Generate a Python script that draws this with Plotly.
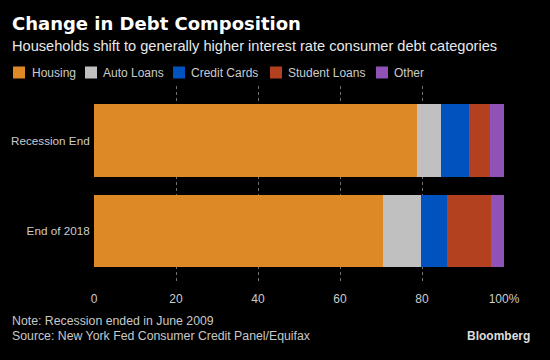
import plotly.graph_objects as go

categories = ["Recession End", "End of 2018"]
series_names = ["Housing", "Auto Loans", "Credit Cards", "Student Loans", "Other"]
housing = [78.7, 70.4]
auto_loans = [6.0, 9.3]
credit_cards = [6.8, 6.5]
student_loans = [5.2, 10.7]
other = [3.3, 3.1]
tick_vals = [0, 20, 40, 60, 80, 100]
tick_text = ["0", "20", "40", "60", "80", "100%"]

colors = ["#DD8A26", "#C0C0C0", "#0052BF", "#B3401F", "#9152B8"]
values = [housing, auto_loans, credit_cards, student_loans, other]

fig = go.Figure()
for name, vals, col in zip(series_names, values, colors):
    fig.add_trace(go.Bar(
        y=categories, x=vals, name=name, orientation="h",
        marker=dict(color=col, line=dict(width=0)),
        showlegend=False, hoverinfo="x+name",
    ))

FONT = "Liberation Sans, Arial, sans-serif"
L, T, B = 94, 86, 77
PW, PH = 550 - L - 46, 360 - T - B

fig.update_layout(
    width=550, height=360,
    paper_bgcolor="black", plot_bgcolor="black",
    barmode="stack", bargap=0.2,
    margin=dict(l=L, r=46, t=T, b=B, autoexpand=False),
    font=dict(family=FONT, color="#cccccc", size=12),
    xaxis=dict(
        range=[0, 100], tickvals=tick_vals, ticktext=tick_text,
        showgrid=True, gridcolor="#707070", griddash="dot", gridwidth=1,
        zeroline=True, zerolinecolor="black", zerolinewidth=2,
        showline=False, ticks="outside", ticklen=5, tickcolor="rgba(0,0,0,0)",
        tickfont=dict(size=12, color="#cccccc"), fixedrange=True,
        automargin=False,
    ),
    yaxis=dict(
        type="category", categoryorder="array", categoryarray=categories,
        range=[1.578, -0.604], showgrid=False, zeroline=False, showline=False,
        ticks="outside", ticklen=1, tickcolor="rgba(0,0,0,0)",
        tickfont=dict(size=11.7, color="#cccccc"), fixedrange=True,
        automargin=False,
    ),
)

annotations = [
    dict(text="<b>Change in Debt Composition</b>", x=10, y=23.5,
         font=dict(family="DejaVu Sans, sans-serif", size=18, color="white")),
    dict(text="Households shift to generally higher interest rate consumer debt categories",
         x=10, y=46, font=dict(family=FONT, size=14.6, color="#e8e8e8")),
    dict(text="Note: Recession ended in June 2009", x=10, y=321,
         font=dict(family=FONT, size=12.3, color="#c8c8c8")),
    dict(text="Source: New York Fed Consumer Credit Panel/Equifax", x=10, y=335.5,
         font=dict(family=FONT, size=12.3, color="#c8c8c8")),
    dict(text="<b>Bloomberg</b>", x=465, y=336,
         font=dict(family=FONT, size=12, color="#dddddd")),
]

# manual legend
legend_sq_x = [13, 85, 173, 270, 376]
legend_txt_x = [30, 101, 189, 286, 392]
shapes = []
for name, col, sx, tx in zip(series_names, colors, legend_sq_x, legend_txt_x):
    shapes.append(dict(type="rect", xref="paper", yref="paper",
                       x0=(sx - L) / PW, x1=(sx + 12 - L) / PW,
                       y0=(360 - B - 78.5) / PH, y1=(360 - B - 66.5) / PH,
                       fillcolor=col, line=dict(width=0)))
    annotations.append(dict(text=name, x=tx, y=72.5,
                            font=dict(family=FONT, size=12, color="#cccccc")))

ann_objs = []
for a in annotations:
    ann_objs.append(dict(
        text=a["text"], xref="paper", yref="paper",
        x=(a["x"] - L) / PW, y=(360 - B - a["y"]) / PH,
        xanchor="left", yanchor="middle", showarrow=False,
        font=a["font"],
    ))

fig.update_layout(annotations=ann_objs, shapes=shapes)
fig.write_html(
    "out.html",
    config={"displayModeBar": False},
    post_script="document.body.style.margin='0';document.body.style.background='black';",
)
